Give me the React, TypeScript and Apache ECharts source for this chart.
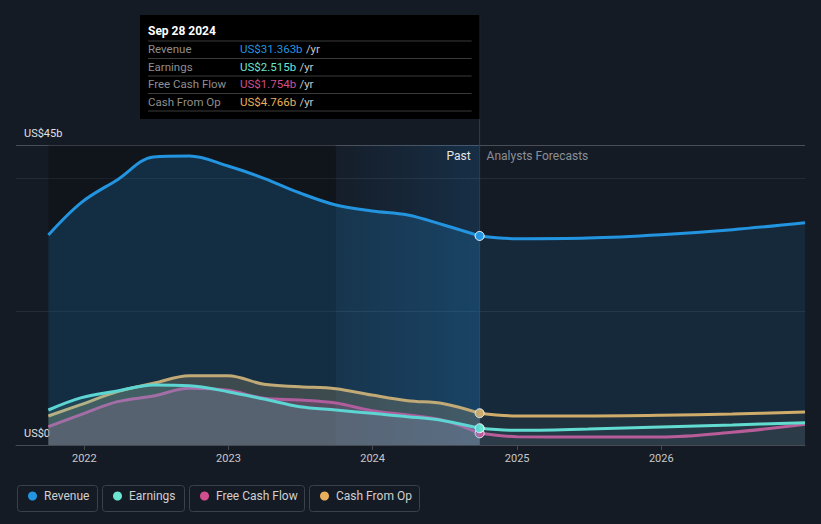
import React, { useEffect, useRef } from "react";
import * as echarts from "echarts";

const pastDates = ["2021-10-02", "2021-12-25", "2022-03-26", "2022-06-25", "2022-09-24", "2022-12-31", "2023-04-01", "2023-07-01", "2023-09-30", "2023-12-30", "2024-03-30", "2024-06-29", "2024-09-28"];
const forecastDates = ["2024-09-28", "2024-12-31", "2025-06-30", "2025-12-31", "2026-06-30", "2026-12-31"];

const revenuePast = [31.5, 36.4, 39.8, 43.2, 43.35, 41.85, 40.0, 37.8, 36.0, 35.1, 34.5, 33.0, 31.363];
const earningsPast = [5.25, 7.1, 8.1, 9.0, 8.9, 8.0, 6.9, 5.75, 5.25, 4.75, 4.25, 3.65, 2.515];
const fcfPast = [2.75, 4.6, 6.5, 7.35, 8.5, 8.2, 7.0, 6.75, 6.3, 5.15, 4.5, 3.7, 1.754];
const cfoPast = [4.35, 6.1, 8.0, 9.25, 10.4, 10.4, 9.1, 8.75, 8.45, 7.5, 6.65, 6.2, 4.766];

const revenueForecast = [31.363, 30.95, 31.05, 31.55, 32.3, 33.35];
const earningsForecast = [2.515, 2.2, 2.4, 2.7, 3.0, 3.35];
const fcfForecast = [1.754, 1.25, 1.2, 1.2, 1.9, 3.1];
const cfoForecast = [4.766, 4.35, 4.35, 4.45, 4.65, 4.95];

const yTicks = ["US$0", "US$45b"];
const xMin = "2021-07-12";
const xMax = "2026-12-31";
const highlightStart = "2023-09-30";
const nowDate = "2024-09-28";
const tooltipTitle = "Sep 28 2024";

const metrics = [
  { name: "Revenue", color: "#2394df", past: revenuePast, fc: revenueForecast, pastArea: 0.2, fcArea: 0.12 },
  { name: "Earnings", color: "#6ce5d0", past: earningsPast, fc: earningsForecast, pastArea: 0.15, fcArea: 0.05 },
  { name: "Free Cash Flow", color: "#d24f8d", past: fcfPast, fc: fcfForecast, pastArea: 0.22, fcArea: 0.05 },
  { name: "Cash From Op", color: "#e9b05c", past: cfoPast, fc: cfoForecast, pastArea: 0.24, fcArea: 0.06 },
];

const fmt = (v: number) => "US$" + v.toFixed(3) + "b";

export default function App() {
  const ref = useRef<HTMLDivElement>(null);
  useEffect(() => {
    if (!ref.current) return;
    const chart = echarts.init(ref.current, null, { renderer: "svg" });
    const font = "Roboto, 'Noto Sans', sans-serif";
    const series: any[] = [];
    metrics.forEach((m, mi) => {
      const last = m.past.length - 1;
      series.push({
        type: "line",
        name: m.name,
        smooth: 0.35,
        symbol: "none",
        showSymbol: true,
        z: 5 - mi,
        lineStyle: { color: m.color, width: 3 },
        areaStyle: { color: m.color, opacity: m.pastArea },
        data: m.past.map((v, i) =>
          i === last
            ? { value: [pastDates[i], v], symbol: "circle", symbolSize: 9, itemStyle: { color: m.color, borderColor: "#ffffff", borderWidth: 1 } }
            : { value: [pastDates[i], v] }
        ),
        markArea:
          mi === 0
            ? {
                silent: true,
                data: [
                  [
                    { xAxis: pastDates[0], itemStyle: { color: "rgba(0,0,0,0.22)" } },
                    { xAxis: highlightStart },
                  ],
                  [
                    {
                      xAxis: highlightStart,
                      itemStyle: {
                        color: new echarts.graphic.LinearGradient(0, 0, 1, 0, [
                          { offset: 0, color: "rgba(33,150,243,0.02)" },
                          { offset: 1, color: "rgba(33,150,243,0.16)" },
                        ]),
                      },
                    },
                    { xAxis: nowDate },
                  ],
                ],
              }
            : undefined,
      });
      series.push({
        type: "line",
        name: m.name + " forecast",
        smooth: 0.35,
        symbol: "none",
        z: 4 - mi,
        lineStyle: { color: m.color, width: 3 },
        areaStyle: { color: m.color, opacity: m.fcArea },
        data: m.fc.map((v, i) => [forecastDates[i], v]),
      });
    });

    const option: any = {
      animation: false,
      backgroundColor: "#151b25",
      grid: { left: 16, right: 16, top: 145, bottom: 79, containLabel: false },
      xAxis: {
        type: "time",
        min: xMin,
        max: xMax,
        minInterval: 365 * 24 * 3600 * 1000,
        axisLine: { show: true, lineStyle: { color: "#464b53", width: 1 } },
        axisTick: { show: true, length: 5, lineStyle: { color: "#464b53" } },
        axisLabel: {
          color: "#c8c8c8",
          fontFamily: font,
          fontSize: 11,
          margin: 8,
          formatter: "{yyyy}",
          showMinLabel: false,
          showMaxLabel: false,
        },
        splitLine: { show: false },
      },
      yAxis: {
        type: "value",
        min: 0,
        max: 45,
        interval: 20,
        axisLine: { show: false },
        axisTick: { show: false },
        axisLabel: {
          inside: true,
          margin: 8,
          align: "left",
          verticalAlign: "bottom",
          padding: [0, 0, 6, 0],
          color: "#e0e0e0",
          fontFamily: font,
          fontSize: 11,
          formatter: (v: number) => (v === 0 ? yTicks[0] : v === 45 ? yTicks[1] : ""),
        },
        splitLine: {
          show: true,
          lineStyle: { color: ["rgba(0,0,0,0)", "#262c36", "#262c36", "#4a4f57"], width: 1 },
        },
      },
      series,
    };
    chart.setOption(option);

    const px = chart.convertToPixel({ xAxisIndex: 0 }, new Date(nowDate).getTime()) as number;
    const topY = 15;
    const boxBottom = 119;
    const rows = metrics.map((m, i) => {
      const y = 49 + i * 17.6;
      return [
        { type: "text", x: 148, y, style: { text: m.name, fill: "#8f8f8f", font: "11.5px " + font, verticalAlign: "middle" } },
        {
          type: "text",
          x: 240,
          y,
          style: {
            text: "{v|" + fmt(m.past[m.past.length - 1]) + "} {u|/yr}",
            verticalAlign: "middle",
            rich: {
              v: { fill: m.color, font: "11.5px " + font },
              u: { fill: "#c8c8c8", font: "11.5px " + font },
            },
          },
        },
      ];
    }).flat();
    const seps = [41, 58.5, 76, 93.5, 111].map((y) => ({
      type: "line",
      shape: { x1: 148, y1: y, x2: px - 8, y2: y },
      style: { stroke: "#3a3a3a", lineWidth: 1 },
    }));

    const legendItems: any[] = [];
    const boxes = [
      { x: 17, w: 80 },
      { x: 102, w: 82 },
      { x: 189, w: 115 },
      { x: 309, w: 110 },
    ];
    metrics.forEach((m, i) => {
      const b = boxes[i];
      legendItems.push({
        type: "rect",
        shape: { x: b.x + 0.5, y: 485.5, width: b.w, height: 26, r: 3 },
        style: { fill: "none", stroke: "#3b4049", lineWidth: 1 },
      });
      legendItems.push({ type: "circle", shape: { cx: b.x + 15.5, cy: 496, r: 4.5 }, style: { fill: m.color } });
      legendItems.push({
        type: "text",
        x: b.x + 27,
        y: 496,
        style: { text: m.name, fill: "#d0d0d0", font: "12px " + font, verticalAlign: "middle" },
      });
    });

    chart.setOption({
      graphic: [
        {
          type: "line",
          shape: { x1: px, y1: topY, x2: px, y2: 445 },
          style: { stroke: "#24405c", lineWidth: 1 },
          z: 1,
        },
        { type: "rect", shape: { x: 140, y: topY, width: px - 140, height: boxBottom - topY }, style: { fill: "#000000" }, z: 10 },
        { type: "text", x: 148, y: 31, style: { text: tooltipTitle, fill: "#ffffff", font: "bold 12px " + font, verticalAlign: "middle" }, z: 11 },
        ...seps.map((s) => ({ ...s, z: 11 })),
        ...rows.map((r: any) => ({ ...r, z: 11 })),
        {
          type: "text",
          x: px - 9,
          y: 156,
          style: { text: "Past", fill: "#e6e6e6", font: "12px " + font, align: "right", verticalAlign: "middle" },
          z: 11,
        },
        {
          type: "text",
          x: px + 7,
          y: 156,
          style: { text: "Analysts Forecasts", fill: "#8a8f96", font: "12px " + font, align: "left", verticalAlign: "middle" },
          z: 11,
        },
        ...legendItems,
      ],
    });

    return () => chart.dispose();
  }, []);
  return <div ref={ref} style={{ width: 821, height: 524, position: "fixed", left: 0, top: 0 }} />;
}
